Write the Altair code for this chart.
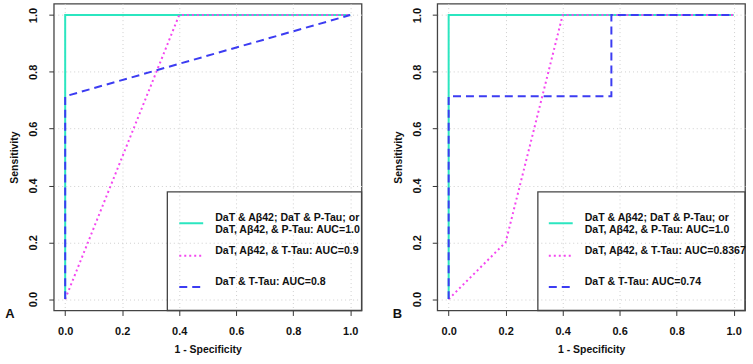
import altair as alt
import pandas as pd

FONT = "Liberation Sans"

# ROC curve points (1 - specificity, sensitivity)
a_combo_fpr = [0.0, 0.0, 1.0]
a_combo_tpr = [0.0, 1.0, 1.0]
a_ttau3_fpr = [0.0, 0.4, 1.0]
a_ttau3_tpr = [0.0, 1.0, 1.0]
a_ttau2_fpr = [0.0, 0.0, 1.0]
a_ttau2_tpr = [0.0, 0.714, 1.0]

b_combo_fpr = [0.0, 0.0, 1.0]
b_combo_tpr = [0.0, 1.0, 1.0]
b_ttau3_fpr = [0.0, 0.2, 0.4, 1.0]
b_ttau3_tpr = [0.0, 0.2, 1.0, 1.0]
b_ttau2_fpr = [0.0, 0.0, 0.571, 0.571, 1.0]
b_ttau2_tpr = [0.0, 0.714, 0.714, 1.0, 1.0]

legend_a = [
    ["DaT & Aβ42; DaT & P-Tau; or", "DaT, Aβ42, & P-Tau: AUC=1.0"],
    ["DaT, Aβ42, & T-Tau: AUC=0.9"],
    ["DaT & T-Tau: AUC=0.8"],
]
legend_b = [
    ["DaT & Aβ42; DaT & P-Tau; or", "DaT, Aβ42, & P-Tau: AUC=1.0"],
    ["DaT, Aβ42, & T-Tau: AUC=0.8367"],
    ["DaT & T-Tau: AUC=0.74"],
]

ticks = [0.0, 0.2, 0.4, 0.6, 0.8, 1.0]

# line styles: solid turquoise, dotted magenta, dashed blue
STYLES = [
    {"color": "#2be6c0", "dash": [1, 0]},
    {"color": "#f447f0", "dash": [2, 3]},
    {"color": "#3c3cf2", "dash": [8, 5]},
]

W, H = 309, 308


def axis(title, vertical=False):
    kw = dict(
        values=ticks, format=".1f", domain=False, tickSize=5, tickColor="#333",
        tickWidth=1, labelFont=FONT, labelFontSize=11, labelFontWeight="bold",
        labelColor="#111", labelPadding=10, title=title, titleFont=FONT,
        titleFontSize=10.5, titleFontWeight="bold", titleColor="#111",
        titlePadding=8, grid=True, gridDash=[1, 3], gridColor="#cfcfcf",
        gridWidth=1,
    )
    if vertical:
        kw.update(labelAngle=270, labelAlign="center", labelBaseline="bottom",
                  labelPadding=10)
    return alt.Axis(**kw)


def panel(curves, labels, letter, box_left, line_x, text_x, letter_x):
    xs = alt.Scale(domain=[-0.04, 1.04], nice=False, zero=False)
    ys = alt.Scale(domain=[-0.04, 1.04], nice=False, zero=False)
    layers = []
    for (fpr, tpr), st in zip(curves, STYLES):
        df = pd.DataFrame({"fpr": fpr, "tpr": tpr, "i": range(len(fpr))})
        layers.append(
            alt.Chart(df).mark_line(
                color=st["color"], strokeDash=st["dash"], strokeWidth=2, clip=True
            ).encode(
                x=alt.X("fpr:Q", scale=xs, axis=axis("1 - Specificity")),
                y=alt.Y("tpr:Q", scale=ys, axis=axis("Sensitivity", vertical=True)),
                order="i:Q",
            )
        )
    one = pd.DataFrame({"k": [0]})
    # legend frame
    layers.append(
        alt.Chart(one).mark_rect(fillOpacity=0, stroke="#444", strokeWidth=1.3).encode(
            x=alt.value(box_left), x2=alt.value(W), y=alt.value(189), y2=alt.value(H)
        )
    )
    line_y = [220.5, 253, 284.5]
    text_y = [215.5, 248, 279.5]
    for lab, st, ly, ty in zip(labels, STYLES, line_y, text_y):
        layers.append(
            alt.Chart(one).mark_rule(
                color=st["color"], strokeDash=st["dash"], strokeWidth=2
            ).encode(x=alt.value(line_x), x2=alt.value(line_x + 24), y=alt.value(ly))
        )
        layers.append(
            alt.Chart(one).mark_text(
                font=FONT, fontSize=10.6, fontWeight="bold", color="#111",
                align="left", baseline="middle", lineHeight=11.5,
            ).encode(
                x=alt.value(text_x), y=alt.value(ty),
                text=alt.value(lab if len(lab) > 1 else lab[0]),
            )
        )
    layers.append(
        alt.Chart(one).mark_text(
            font=FONT, fontSize=13, fontWeight="bold", color="#111",
            align="center", baseline="middle",
        ).encode(x=alt.value(letter_x), y=alt.value(312), text=alt.value(letter))
    )
    return alt.layer(*layers).properties(width=W, height=H)


chart_a = panel(
    [(a_combo_fpr, a_combo_tpr), (a_ttau3_fpr, a_ttau3_tpr), (a_ttau2_fpr, a_ttau2_tpr)],
    legend_a, "A", box_left=114, line_x=126, text_x=162, letter_x=-44,
)
chart_b = panel(
    [(b_combo_fpr, b_combo_tpr), (b_ttau3_fpr, b_ttau3_tpr), (b_ttau2_fpr, b_ttau2_tpr)],
    legend_b, "B", box_left=101, line_x=112, text_x=148, letter_x=-40,
)

chart = alt.hconcat(chart_a, chart_b, spacing=76, bounds="flush").properties(
    padding={"left": 4, "top": 2, "right": 5, "bottom": 2},
    background="white",
).configure_view(stroke="#444", strokeWidth=1.3)

chart.save("out.html", embed_options={"renderer": "svg", "actions": False})
